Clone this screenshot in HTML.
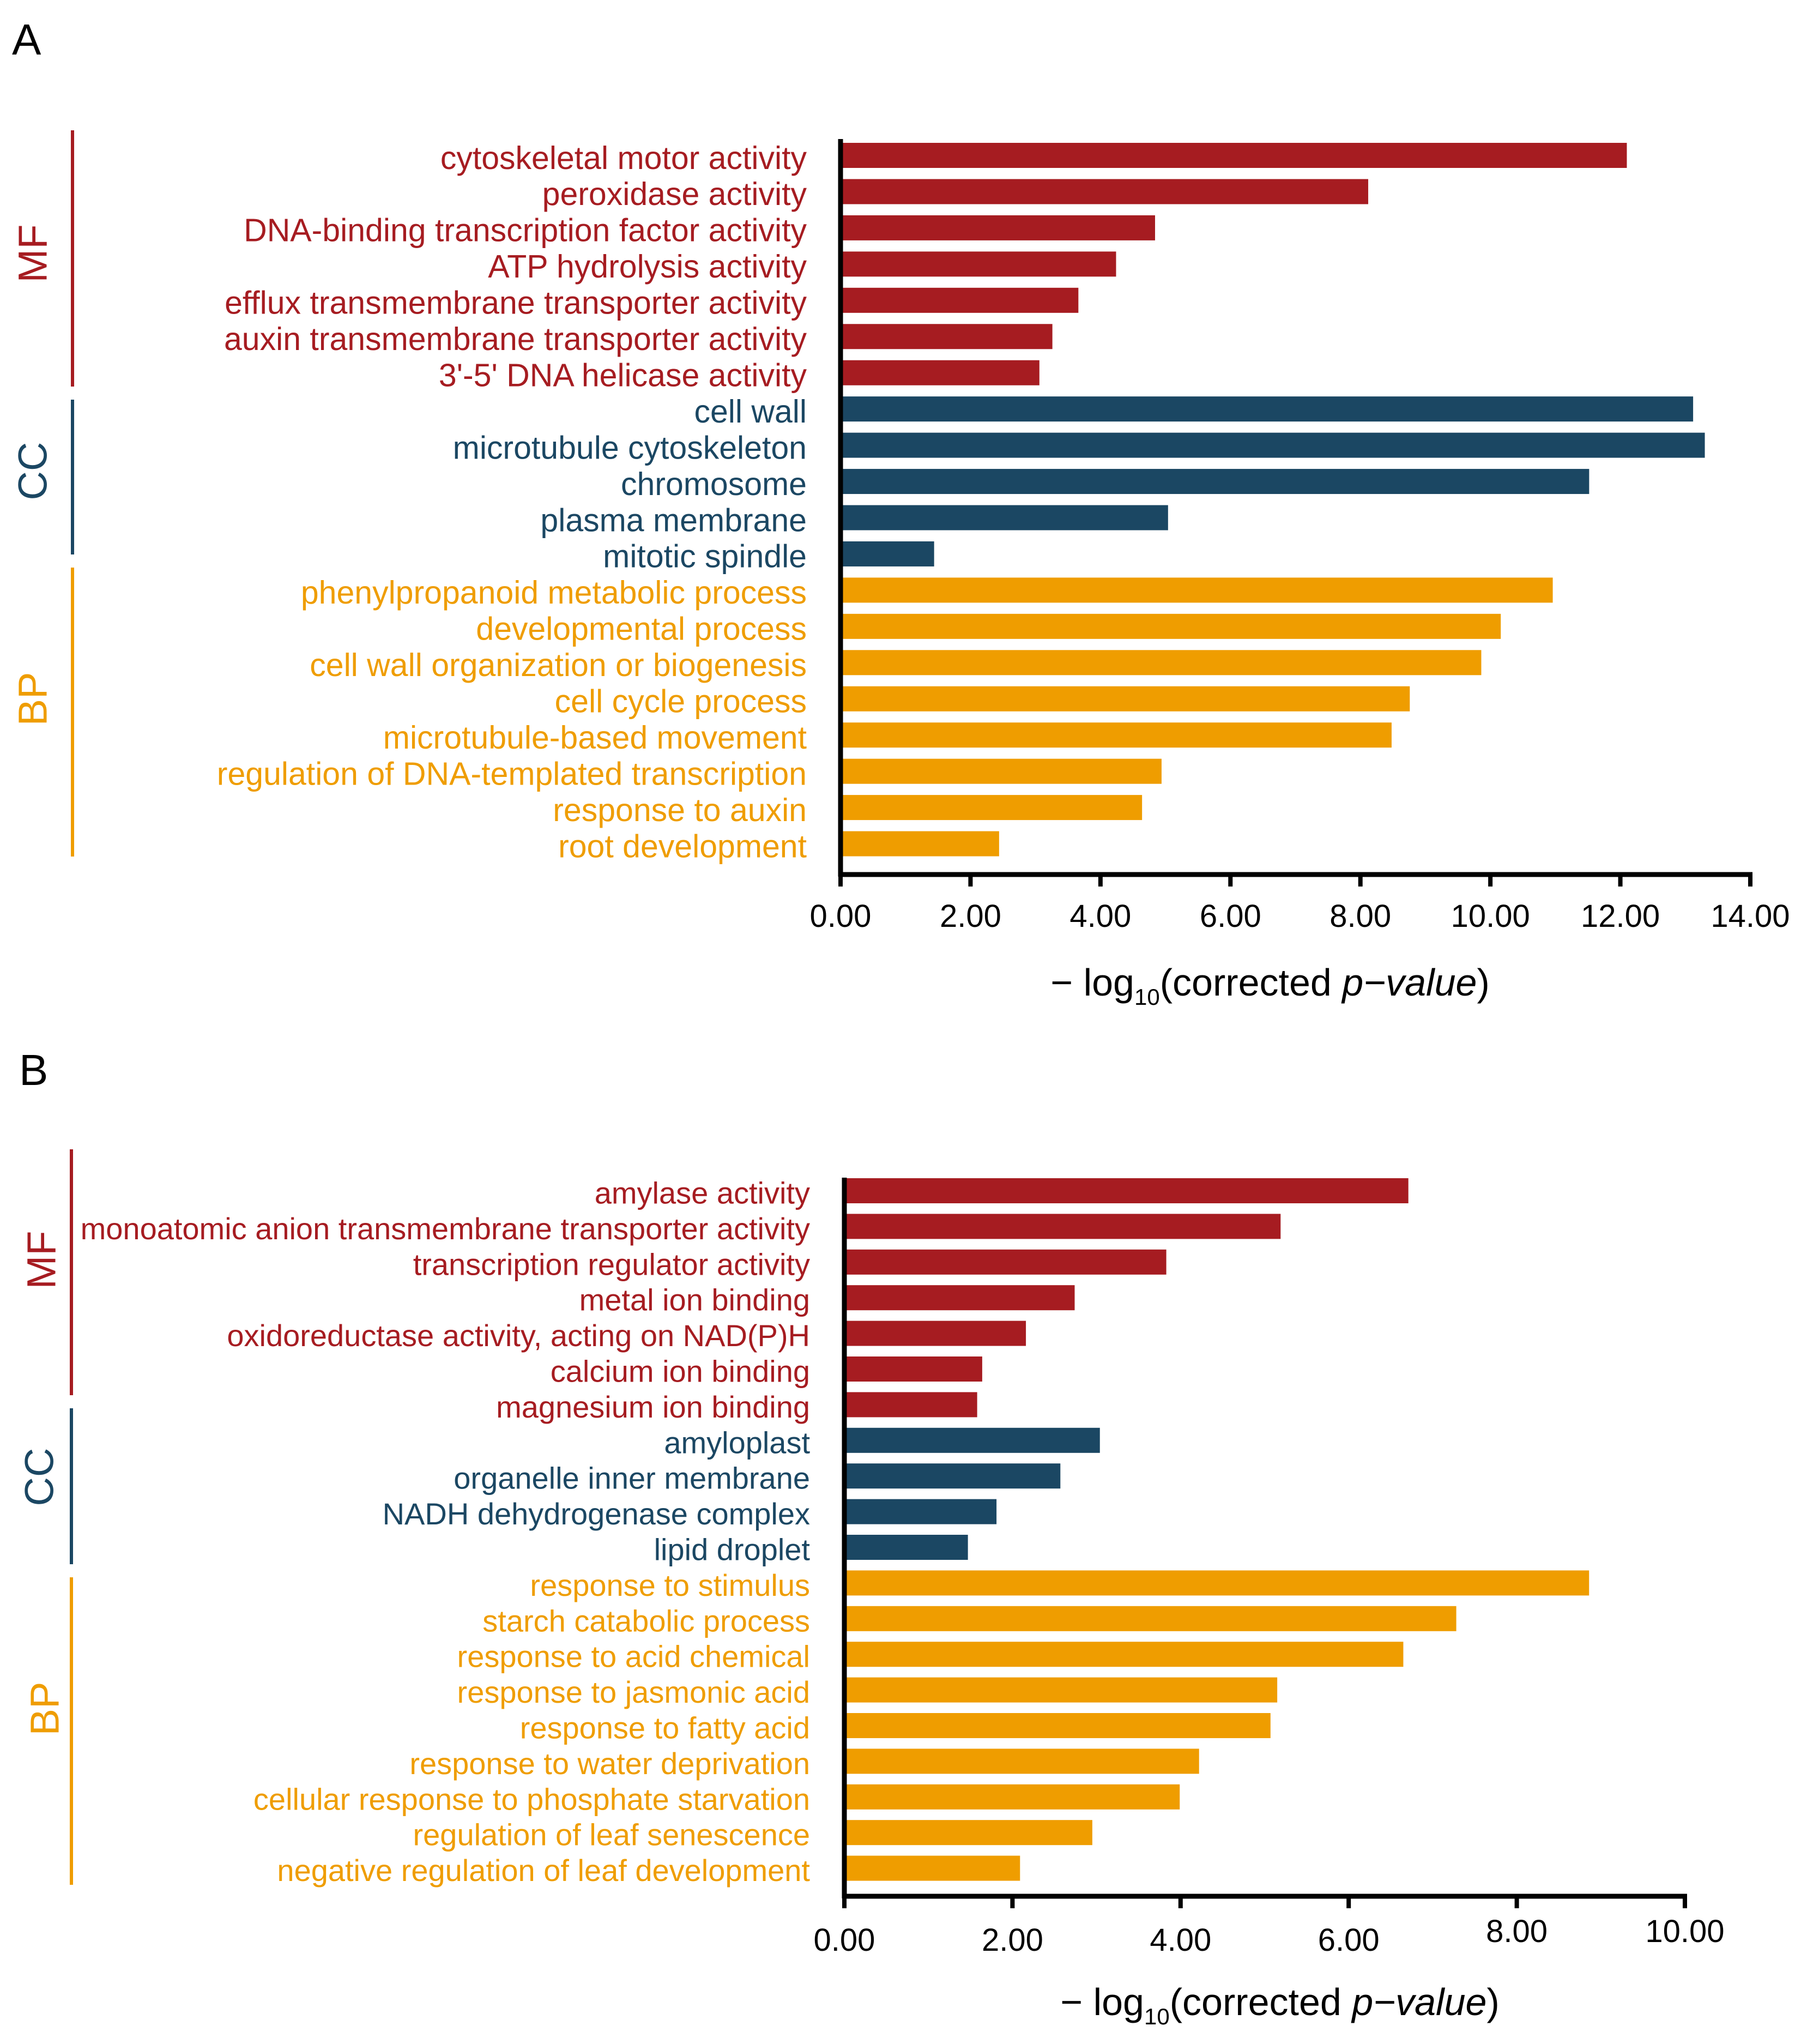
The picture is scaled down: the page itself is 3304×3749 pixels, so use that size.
<!DOCTYPE html>
<html><head><meta charset="utf-8"><style>
html,body{margin:0;padding:0;background:#fff;}
svg{display:block;font-family:"Liberation Sans",Arial,sans-serif;}
</style></head><body>
<svg id="chart" width="3304" height="3749" viewBox="0 0 3304 3749" xmlns="http://www.w3.org/2000/svg">
<text x="22" y="100" font-size="80" fill="#000">A</text>
<text x="35" y="1990" font-size="80" fill="#000">B</text>
</svg>
<script>
const catsA = ["cytoskeletal motor activity","peroxidase activity","DNA-binding transcription factor activity","ATP hydrolysis activity","efflux transmembrane transporter activity","auxin transmembrane transporter activity","3'-5' DNA helicase activity","cell wall","microtubule cytoskeleton","chromosome","plasma membrane","mitotic spindle","phenylpropanoid metabolic process","developmental process","cell wall organization or biogenesis","cell cycle process","microtubule-based movement","regulation of DNA-templated transcription","response to auxin","root development"];
const valsA = [12.1,8.12,4.84,4.24,3.66,3.26,3.06,13.12,13.3,11.52,5.04,1.44,10.96,10.16,9.86,8.76,8.48,4.94,4.64,2.44];
const groupsA = ["MF","MF","MF","MF","MF","MF","MF","CC","CC","CC","CC","CC","BP","BP","BP","BP","BP","BP","BP","BP"];
const ticksA = [0,2,4,6,8,10,12,14];
const tickLabelsA = ["0.00","2.00","4.00","6.00","8.00","10.00","12.00","14.00"];

const catsB = ["amylase activity","monoatomic anion transmembrane transporter activity","transcription regulator activity","metal ion binding","oxidoreductase activity, acting on NAD(P)H","calcium ion binding","magnesium ion binding","amyloplast","organelle inner membrane","NADH dehydrogenase complex","lipid droplet","response to stimulus","starch catabolic process","response to acid chemical","response to jasmonic acid","response to fatty acid","response to water deprivation","cellular response to phosphate starvation","regulation of leaf senescence","negative regulation of leaf development"];
const valsB = [6.71,5.19,3.83,2.74,2.16,1.64,1.58,3.04,2.57,1.81,1.47,8.86,7.28,6.65,5.15,5.07,4.22,3.99,2.95,2.09];
const groupsB = ["MF","MF","MF","MF","MF","MF","MF","CC","CC","CC","CC","BP","BP","BP","BP","BP","BP","BP","BP","BP"];
const ticksB = [0,2,4,6,8,10];
const tickLabelsB = ["0.00","2.00","4.00","6.00","8.00","10.00"];

const colors = {MF:"#a61c21", CC:"#1b4763", BP:"#ef9d00"};
const NS = "http://www.w3.org/2000/svg";
const svg = document.getElementById('chart');
function mk(tag, attrs){const e=document.createElementNS(NS,tag);for(const k in attrs)e.setAttribute(k,attrs[k]);svg.appendChild(e);return e;}

function panel(p, cats, vals, groups, ticks, tickLabels){
  const xs = v => p.x0 + (v - 0)/(p.max) * (p.x1 - p.x0);
  const ys = i => p.y0 + i*p.step;
  cats.forEach((c,i)=>{
    const r = mk('rect',{x:xs(0),y:ys(i)-p.bh/2,width:xs(vals[i])-xs(0),height:p.bh,fill:colors[groups[i]]});
    
    
    const t = mk('text',{x:p.lx,y:ys(i)+p.fs*0.42,'text-anchor':'end','font-size':p.fs,fill:colors[groups[i]]});
    t.textContent = c;
    
    
  });
  const ya = mk('line',{x1:p.x0,y1:p.axTop,x2:p.x0,y2:p.base+4,stroke:'#000','stroke-width':9});
  
  
  const xa = mk('line',{x1:p.x0-4,y1:p.base,x2:p.x1+4,y2:p.base,stroke:'#000','stroke-width':9});
  
  
  ticks.forEach((v,i)=>{
    const l = mk('line',{x1:xs(v),y1:p.base,x2:xs(v),y2:p.base+22,stroke:'#000','stroke-width':8});
    
    
    const t = mk('text',{x:xs(v),y:p.tickY + (p.tickShift && v>=8 ? -16 : 0),'text-anchor':'middle','font-size':58,fill:'#000'});
    t.textContent = tickLabels[i];
    
    
  });
  const tt = mk('text',{x:p.titleX,y:p.titleY,'text-anchor':'middle','font-size':70,fill:'#000'});
  tt.innerHTML = '\u2212 log<tspan font-size="42" dy="17">10</tspan><tspan dy="-17">(corrected </tspan><tspan font-style="italic">p\u2212value</tspan>)';
  
  
  p.groups.forEach(g=>{
    const l = mk('rect',{x:p.gx-3,y:g.y1,width:6,height:g.y2-g.y1,fill:colors[g.n]});
    
    
    const cy=(g.ly);
    const t = mk('text',{x:g.lx,y:cy,'text-anchor':'middle','font-size':74,fill:colors[g.n],transform:'rotate(-90 '+g.lx+' '+cy+')','dominant-baseline':'central'});
    t.textContent = g.n;
    
    
  });
}
panel({id:'a',fs:59,x0:1542,x1:3211,max:14,y0:285,step:66.45,bh:46,axTop:255,base:1604,lx:1480,tickY:1700,titleX:2330,titleY:1826,gx:133,
  groups:[{n:'MF',y1:239,y2:709,ly:465,lx:60},{n:'CC',y1:733,y2:1017,ly:864,lx:60},{n:'BP',y1:1041,y2:1571,ly:1282,lx:60}]},
  catsA,valsA,groupsA,ticksA,tickLabelsA);
panel({id:'b',fs:56,x0:1549,x1:3091,max:10,y0:2184,step:65.4,bh:46,axTop:2160,base:3478,lx:1486,tickY:3578,tickShift:true,titleX:2348,titleY:3696,gx:131,
  groups:[{n:'MF',y1:2108,y2:2559,ly:2311,lx:76},{n:'CC',y1:2583,y2:2869,ly:2709,lx:72},{n:'BP',y1:2893,y2:3457,ly:3134,lx:82}]},
  catsB,valsB,groupsB,ticksB,tickLabelsB);
</script>
</body></html>
